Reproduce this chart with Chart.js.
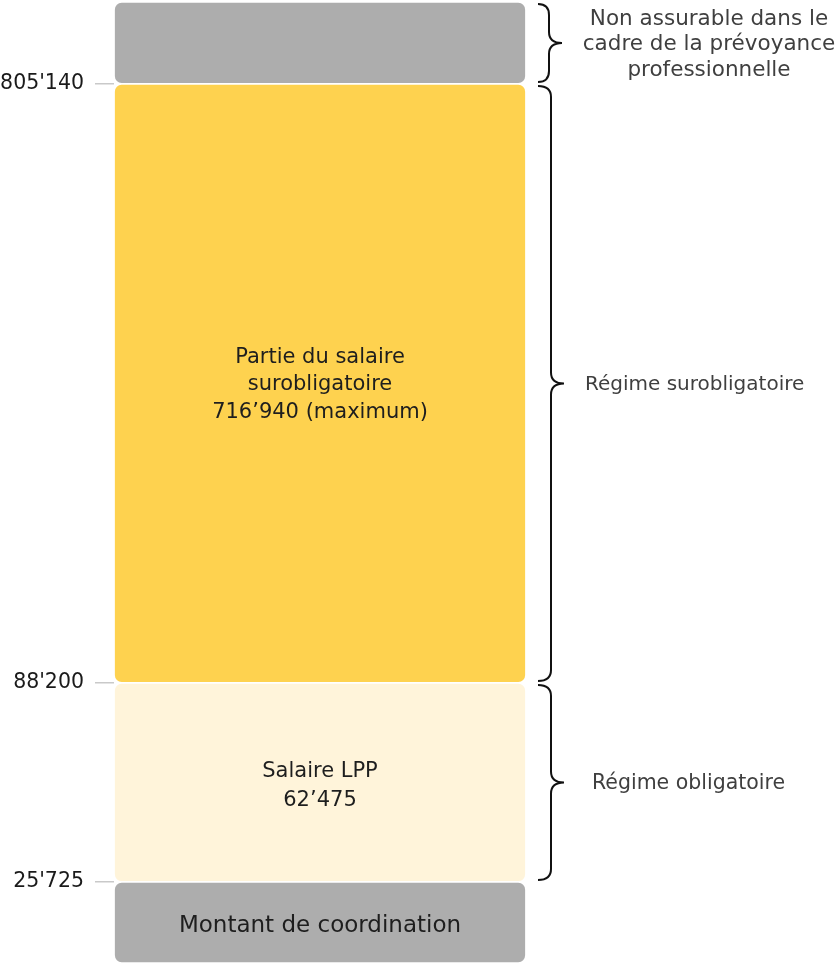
<!DOCTYPE html>
<html>
<head>
<meta charset="utf-8">
<script src="https://cdn.jsdelivr.net/npm/chart.js@4"></script>
<style>
  html, body { margin: 0; padding: 0; background: #fff; }
  #wrap { width: 838px; height: 965px; position: relative; }
</style>
</head>
<body>
<div id="wrap"><canvas id="c" width="838" height="965"></canvas></div>
<script>
// ---- data ----
const categories = ["Salaire"];
const segmentNames = ["Montant de coordination", "Salaire LPP", "Partie du salaire surobligatoire", "Non assurable"];
const segmentValues = [25725, 62475, 716940, 85000]; // last: nominal (no value given)
const segmentLabels = [
  ["Montant de coordination"],
  ["Salaire LPP", "62’475"],
  ["Partie du salaire", "surobligatoire", "716’940 (maximum)"],
  []
];
const tickValues = [25725, 88200, 805140];
const tickLabels = ["25'725", "88'200", "805'140"];
const regimeLabels = [
  ["Non assurable dans le", "cadre de la prévoyance", "professionnelle"],
  ["Régime surobligatoire"],
  ["Régime obligatoire"]
];
const colors = ["#adadad", "#fff4da", "#fed24f", "#adadad"];

// ---- piecewise scale (schematic, non-proportional axis) ----
const totalMax = segmentValues.reduce((a, b) => a + b, 0);
const breakValues = [0, 25725, 88200, 805140, totalMax];
const breakFracs  = [0, 0.0843, 0.2914, 0.9147, 1];

class PiecewiseScale extends Chart.LinearScale {
  getPixelForValue(value) {
    if (value === null || value === undefined || isNaN(value)) return NaN;
    let f;
    if (value <= breakValues[0]) f = 0;
    else if (value >= breakValues[breakValues.length - 1]) f = 1;
    else {
      for (let i = 0; i < breakValues.length - 1; i++) {
        if (value >= breakValues[i] && value <= breakValues[i + 1]) {
          const t = (value - breakValues[i]) / (breakValues[i + 1] - breakValues[i]);
          f = breakFracs[i] + t * (breakFracs[i + 1] - breakFracs[i]);
          break;
        }
      }
    }
    return this.getPixelForDecimal(f);
  }
  getValueForPixel(pixel) {
    const f = this.getDecimalForPixel(pixel);
    for (let i = 0; i < breakFracs.length - 1; i++) {
      if (f >= breakFracs[i] && f <= breakFracs[i + 1]) {
        const t = (f - breakFracs[i]) / (breakFracs[i + 1] - breakFracs[i]);
        return breakValues[i] + t * (breakValues[i + 1] - breakValues[i]);
      }
    }
    return f < 0 ? breakValues[0] : breakValues[breakValues.length - 1];
  }
}
PiecewiseScale.id = 'piecewise';
PiecewiseScale.defaults = Chart.LinearScale.defaults;
Chart.register(PiecewiseScale);

const FONT = "'DejaVu Sans', sans-serif";

// ---- labels inside bars ----
const barTextPlugin = {
  id: 'barText',
  afterDatasetsDraw(chart) {
    const ctx = chart.ctx;
    ctx.save();
    ctx.fillStyle = '#1e1e1e';
    ctx.textAlign = 'center';
    ctx.textBaseline = 'middle';
    chart.data.datasets.forEach((ds, i) => {
      const el = chart.getDatasetMeta(i).data[0];
      const lines = segmentLabels[i];
      if (!el || !lines.length) return;
      const cy = (el.y + el.base) / 2 + (i === 2 ? 1.5 : 4);
      const lh = i === 2 ? 27.5 : 29;
      const size = i === 0 ? 23 : 21;
      ctx.font = size + 'px ' + FONT;
      const y0 = cy - (lines.length - 1) * lh / 2;
      lines.forEach((t, k) => ctx.fillText(t, el.x, y0 + k * lh));
    });
    ctx.restore();
  }
};

// ---- braces + regime labels ----
function brace(ctx, x0, xm, xt, y1, y2, r) {
  const ym = (y1 + y2) / 2;
  ctx.beginPath();
  ctx.moveTo(x0, y1);
  ctx.quadraticCurveTo(xm, y1, xm, y1 + r);
  ctx.lineTo(xm, ym - r);
  ctx.quadraticCurveTo(xm, ym, xt, ym);
  ctx.quadraticCurveTo(xm, ym, xm, ym + r);
  ctx.lineTo(xm, y2 - r);
  ctx.quadraticCurveTo(xm, y2, x0, y2);
  ctx.stroke();
  return ym;
}
const bracePlugin = {
  id: 'braces',
  afterDraw(chart) {
    const ctx = chart.ctx;
    const y = chart.scales.y;
    const groups = [
      [805140, totalMax],
      [88200, 805140],
      [25725, 88200]
    ];
    ctx.save();
    ctx.strokeStyle = '#111';
    ctx.lineWidth = 2;
    ctx.fillStyle = '#3f3f3f';
    ctx.textBaseline = 'middle';
    groups.forEach((g, i) => {
      const yTop = y.getPixelForValue(g[1]) + 2;
      const yBot = y.getPixelForValue(g[0]) - 2;
      const xm = i === 0 ? 549 : 551;
      const ym = brace(ctx, 538, xm, xm + 13, yTop, yBot, 11);
      const lines = regimeLabels[i];
      if (i === 0) {
        ctx.font = '21.5px ' + FONT;
        ctx.textAlign = 'center';
        const lh = 25.5;
        const y0 = ym - 24;
        lines.forEach((t, k) => ctx.fillText(t, 709, y0 + k * lh));
      } else {
        ctx.font = (i === 1 ? 20 : 20.5) + 'px ' + FONT;
        ctx.textAlign = 'left';
        ctx.fillText(lines[0], i === 1 ? 585 : 592, ym + 1);
      }
    });
    ctx.restore();
  }
};

new Chart(document.getElementById('c'), {
  type: 'bar',
  data: {
    labels: categories,
    datasets: segmentValues.map((v, i) => ({
      label: segmentNames[i],
      data: [v],
      backgroundColor: colors[i],
      borderColor: '#ffffff',
      borderWidth: 1.2,
      borderSkipped: false,
      borderRadius: { topLeft: 8, topRight: 8, bottomLeft: 8, bottomRight: 8 },
      barPercentage: 1,
      categoryPercentage: 1
    }))
  },
  options: {
    responsive: false,
    animation: false,
    devicePixelRatio: 1,
    layout: { padding: { top: 2, bottom: 2, right: 312, left: 0 } },
    plugins: { legend: { display: false }, tooltip: { enabled: false } },
    scales: {
      x: { stacked: true, display: false },
      y: {
        type: 'piecewise',
        stacked: true,
        min: 0,
        max: totalMax,
        afterFit(scale) { scale.width = 114; scale.paddingTop = 0; scale.paddingBottom = 0; },
        afterBuildTicks(scale) { scale.ticks = tickValues.map(v => ({ value: v })); },
        border: { display: false },
        grid: { drawOnChartArea: false, drawTicks: true, tickLength: 19, color: '#c9c9c9', lineWidth: 1.5 },
        ticks: {
          padding: 11,
          color: '#1a1a1a',
          font: { family: FONT, size: 20.5 },
          callback(value) {
            const i = tickValues.indexOf(value);
            return i >= 0 ? tickLabels[i] : '';
          }
        }
      }
    }
  },
  plugins: [barTextPlugin, bracePlugin]
});
</script>
</body>
</html>
